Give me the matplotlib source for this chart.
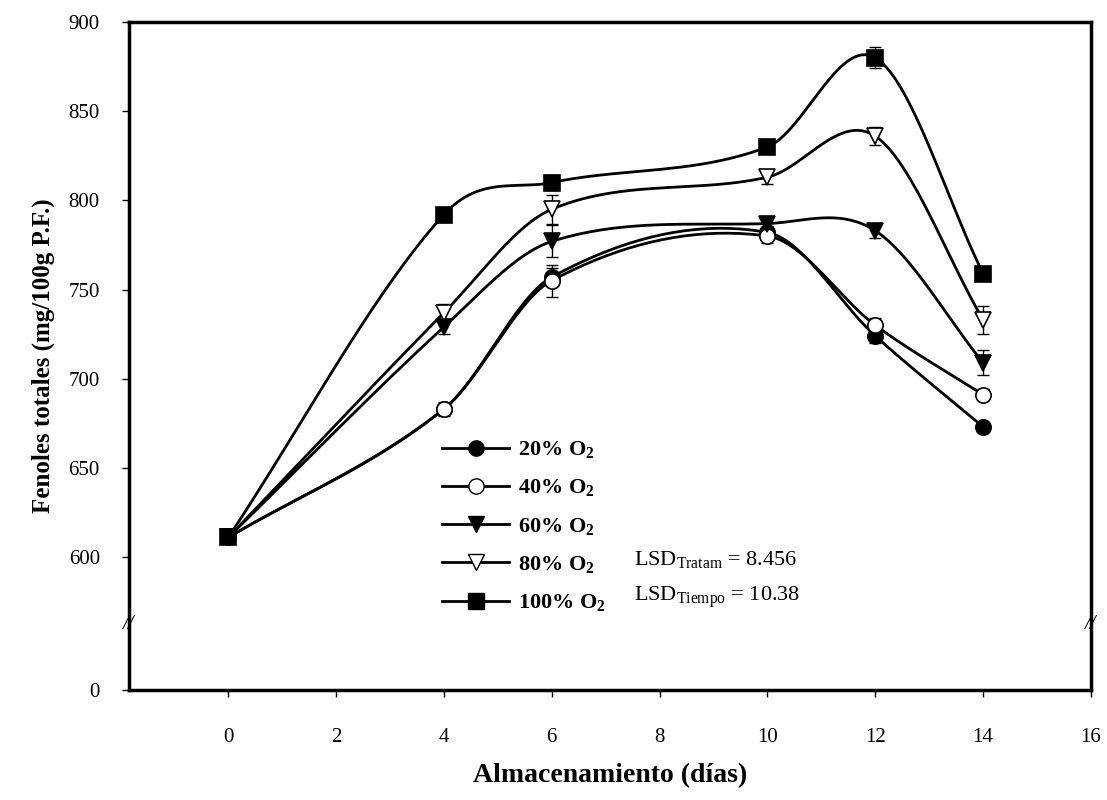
import matplotlib.pyplot as plt
import numpy as np

plt.rcParams['font.family'] = ['Liberation Serif', 'DejaVu Serif']
plt.rcParams['mathtext.fontset'] = 'custom'
plt.rcParams['mathtext.rm'] = 'Liberation Serif'
plt.rcParams['mathtext.bf'] = 'Liberation Serif:bold'

dias = [0, 4, 6, 10, 12, 14]

o2_20 = [611, 683, 757, 782, 724, 673]
o2_40 = [611, 683, 755, 780, 730, 691]
o2_60 = [611, 729, 777, 787, 783, 709]
o2_80 = [611, 737, 795, 813, 836, 733]
o2_100 = [611, 792, 810, 830, 880, 759]

err_20 = [3, 3, 5, 3, 4, 3]
err_40 = [3, 4, 9, 4, 4, 3]
err_60 = [3, 4, 9, 3, 4, 7]
err_80 = [3, 5, 8, 4, 5, 8]
err_100 = [3, 4, 4, 3, 6, 3]

etiquetas = ['20% O$_{\\mathbf{2}}$', '40% O$_{\\mathbf{2}}$', '60% O$_{\\mathbf{2}}$',
             '80% O$_{\\mathbf{2}}$', '100% O$_{\\mathbf{2}}$']


def curva(x, y, n=40):
    # cubic Hermite curve through the points, tangents from neighbours
    x = np.asarray(x, float)
    y = np.asarray(y, float)
    m = np.empty_like(y)
    m[0] = (y[1] - y[0]) / (x[1] - x[0])
    m[-1] = (y[-1] - y[-2]) / (x[-1] - x[-2])
    m[1:-1] = (y[2:] - y[:-2]) / (x[2:] - x[:-2])
    xs, ys = [], []
    for i in range(len(x) - 1):
        h = x[i + 1] - x[i]
        t = np.linspace(0, 1, n)
        h00 = 2 * t**3 - 3 * t**2 + 1
        h10 = t**3 - 2 * t**2 + t
        h01 = -2 * t**3 + 3 * t**2
        h11 = t**3 - t**2
        xs.append(x[i] + t * h)
        ys.append(h00 * y[i] + h10 * h * m[i] + h01 * y[i + 1] + h11 * h * m[i + 1])
    return np.concatenate(xs), np.concatenate(ys)


# broken y axis: 0-600 squeezed into a short band under 600
low = 525.5


def fwd(v):
    v = np.asarray(v, float)
    return np.where(v >= 600, v, low + v * (600 - low) / 600)


def inv(v):
    v = np.asarray(v, float)
    return np.where(v >= 600, v, (v - low) * 600 / (600 - low))


fig = plt.figure(figsize=(11.07, 8), dpi=100)
ax = fig.add_axes([0.1165, 0.1375, 0.869, 0.835])
ax.set_yscale('function', functions=(fwd, inv))

series = [(o2_20, err_20, 'o', 'black'),
          (o2_40, err_40, 'o', 'white'),
          (o2_60, err_60, 'v', 'black'),
          (o2_80, err_80, 'v', 'white'),
          (o2_100, err_100, 's', 'black')]

handles = []
for (vals, err, mk, fc), lab in zip(series, etiquetas):
    xs, ys = curva(dias, vals)
    ax.plot(xs, ys, color='black', lw=2, zorder=2)
    ax.errorbar(dias, vals, yerr=err, fmt='none', ecolor='black',
                elinewidth=1, capsize=4, capthick=1, zorder=3)
    ax.plot(dias, vals, linestyle='none', marker=mk, markersize=11,
            markerfacecolor=fc, markeredgecolor='black', markeredgewidth=1.2,
            zorder=4)
    h, = ax.plot([], [], color='black', lw=2, marker=mk, markersize=11,
                 markerfacecolor=fc, markeredgecolor='black', label=lab)
    handles.append(h)

ax.set_xlim(-1.84, 16)
ax.set_ylim(0, 900)
ax.set_xticks(range(0, 17, 2))
ax.set_yticks([0, 600, 650, 700, 750, 800, 850, 900])
ax.tick_params(labelsize=15, direction='out', length=5, width=1)
ax.tick_params(axis='x', pad=22)
ax.tick_params(axis='y', pad=16)

for s in ax.spines.values():
    s.set_linewidth(2.5)

# break marks on both vertical spines
for xa in (0, 1):
    ax.text(xa, inv(562), '//', transform=ax.get_yaxis_transform(),
            ha='center', va='center', fontsize=15, style='italic')

ax.set_xlabel('Almacenamiento (días)', fontsize=20, fontweight='bold', labelpad=12)
ax.set_ylabel('Fenoles totales (mg/100g P.F.)', fontsize=18, fontweight='bold', labelpad=10)

leg = ax.legend(handles=handles, loc='upper left', bbox_to_anchor=(0.305, 0.405),
                frameon=False, handlelength=3, labelspacing=0.75,
                handletextpad=0.4, prop={'weight': 'bold', 'size': 16})

ax.text(0.525, 0.195, 'LSD$_{\\mathrm{Tratam}}$ = 8.456', transform=ax.transAxes,
        fontsize=16, va='center')
ax.text(0.525, 0.138, 'LSD$_{\\mathrm{Tiempo}}$ = 10.38', transform=ax.transAxes,
        fontsize=16, va='center')

fig.savefig('out.png', dpi=100)
